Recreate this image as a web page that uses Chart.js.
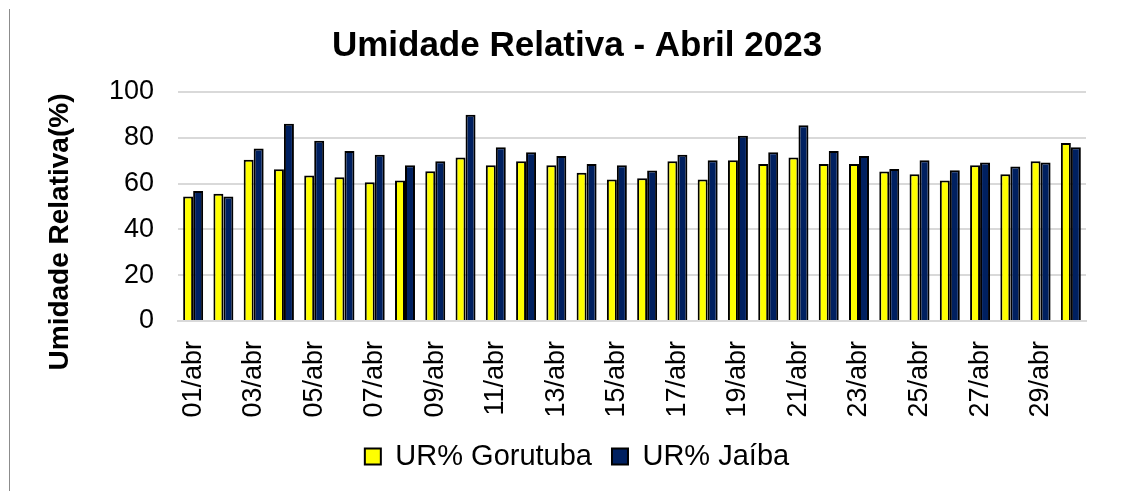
<!DOCTYPE html>
<html>
<head>
<meta charset="utf-8">
<script src="https://cdn.jsdelivr.net/npm/chart.js@4.4.0/dist/chart.umd.min.js"></script>
<style>
  html, body { margin: 0; padding: 0; background: #fff; }
  #wrap { position: relative; width: 1136px; height: 491px; }
  #frame { position: absolute; left: 9px; top: 9px; width: 1px; height: 482px; background: #8c8c8c; }
  canvas { position: absolute; left: 0; top: 0; }
</style>
</head>
<body>
<div id="wrap">
  <canvas id="c" width="1136" height="491"></canvas>
  <div id="frame"></div>
</div>
<script>
const categories = ["01/abr","02/abr","03/abr","04/abr","05/abr","06/abr","07/abr","08/abr","09/abr","10/abr",
  "11/abr","12/abr","13/abr","14/abr","15/abr","16/abr","17/abr","18/abr","19/abr","20/abr",
  "21/abr","22/abr","23/abr","24/abr","25/abr","26/abr","27/abr","28/abr","29/abr","30/abr"];
const gorutuba = [54.4, 55.6, 70.4, 66.3, 63.5, 62.8, 60.6, 61.3, 65.4, 71.4,
  68.0, 69.8, 68.0, 64.7, 61.8, 62.3, 69.8, 61.8, 70.2, 68.6,
  71.4, 68.6, 68.6, 65.3, 64.1, 61.3, 68.0, 64.1, 69.8, 77.7];
const jaiba = [56.8, 54.4, 75.3, 86.1, 78.7, 74.2, 72.6, 68.0, 69.8, 90.1,
  75.9, 73.7, 72.0, 68.6, 68.0, 65.7, 72.6, 70.2, 80.9, 73.7,
  85.5, 74.2, 72.0, 66.4, 70.2, 65.8, 69.2, 67.5, 69.2, 75.9];
const yTicks = [0, 20, 40, 60, 80, 100];
const seriesNames = ["UR% Gorutuba", "UR% Jaíba"];
const chartTitle = "Umidade Relativa - Abril 2023";
const yTitle = "Umidade Relativa(%)";

const FONT = "'Liberation Sans', Arial, sans-serif";

const yTitlePlugin = {
  id: 'yTitle',
  afterDraw(chart) {
    const ctx = chart.ctx;
    ctx.save();
    ctx.translate(60, 232);
    ctx.rotate(-Math.PI / 2);
    ctx.font = "bold 28px " + FONT;
    ctx.fillStyle = '#000';
    ctx.textAlign = 'center';
    ctx.textBaseline = 'middle';
    ctx.fillText(yTitle, 0, 0);
    ctx.restore();
  }
};

new Chart(document.getElementById('c'), {
  type: 'bar',
  data: {
    labels: categories,
    datasets: [
      { label: seriesNames[0], data: gorutuba, backgroundColor: '#FFFF00', borderColor: '#000', borderWidth: 2, borderSkipped: 'bottom' },
      { label: seriesNames[1], data: jaiba, backgroundColor: '#002060', borderColor: '#000', borderWidth: 2, borderSkipped: 'bottom' }
    ]
  },
  options: {
    responsive: false,
    animation: false,
    devicePixelRatio: 1,
    layout: { padding: { left: 68, right: 50, top: 0, bottom: 10 } },
    datasets: { bar: { categoryPercentage: 0.66, barPercentage: 1.0 } },
    plugins: {
      title: {
        display: true, text: chartTitle, color: '#000',
        font: { family: FONT, size: 35, weight: 'bold' },
        padding: { top: 25, bottom: 25 }
      },
      legend: {
        position: 'bottom',
        labels: {
          color: '#000',
          font: { family: FONT, size: 29 },
          boxWidth: 16, boxHeight: 16,
          padding: 20
        }
      },
      tooltip: { enabled: false }
    },
    scales: {
      x: {
        grid: { display: false, drawTicks: false },
        border: { display: true, color: '#d9d9d9', width: 2 },
        ticks: {
          autoSkip: false, maxRotation: 90, minRotation: 90,
          color: '#000', padding: 20,
          font: { family: FONT, size: 27 },
          callback: function (v, i) { return i % 2 === 0 ? categories[i] : ''; }
        },
        afterFit(scale) { scale.height = 101; }
      },
      y: {
        min: 0, max: 100,
        afterBuildTicks(scale) { scale.ticks = yTicks.map(v => ({ value: v })); },
        grid: { color: '#d9d9d9', lineWidth: 2, drawTicks: false },
        border: { display: false },
        ticks: {
          color: '#000', padding: 24,
          font: { family: FONT, size: 27 }
        },
        afterFit(scale) { scale.width = 110; }
      }
    }
  },
  plugins: [yTitlePlugin]
});
</script>
</body>
</html>
